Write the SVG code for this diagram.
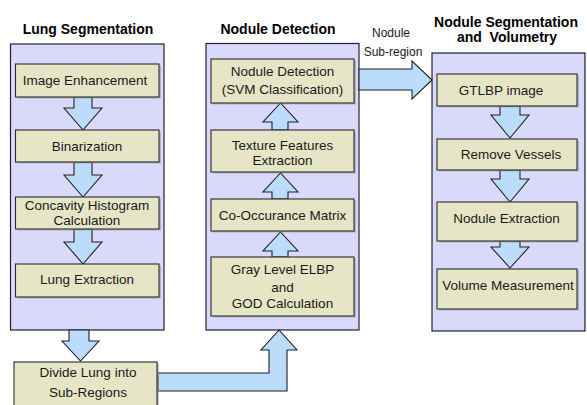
<svg xmlns="http://www.w3.org/2000/svg" width="587" height="405" viewBox="0 0 587 405">
  <style>
    .panel { fill: #d9d9fb; stroke: #22222e; stroke-width: 1.2; }
    .box { fill: #e6e6c6; stroke: #2b2b2b; stroke-width: 1.1; }
    .shadow { fill: #9a9a9a; opacity: 0.6; }
    .arrow { fill: #bcdcfc; stroke: #1f1f1f; stroke-width: 1.1; stroke-linejoin: miter; }
    .title { font-family: "Liberation Sans", Arial, sans-serif; font-size: 14px; font-weight: bold; fill: #000; text-anchor: middle; white-space: pre; }
    .label { font-family: "Liberation Sans", Arial, sans-serif; font-size: 13.5px; fill: #1a1a1a; text-anchor: middle; }
    .note { font-family: "Liberation Sans", Arial, sans-serif; font-size: 12px; fill: #1a1a1a; text-anchor: middle; }
  </style>

  <!-- section titles -->
  <text class="title" x="88" y="34">Lung Segmentation</text>
  <text class="title" x="278" y="34">Nodule Detection</text>
  <text class="title" x="506" y="27">Nodule Segmentation</text>
  <text class="title" x="507" y="42" xml:space="preserve">and  Volumetry</text>

  <!-- panels -->
  <g id="panel-lung">
    <rect class="panel" x="10.5" y="44" width="153.5" height="286"/>
  </g>
  <g id="panel-detection">
    <rect class="panel" x="206" y="43.5" width="153" height="286.5"/>
  </g>
  <g id="panel-volumetry">
    <rect class="panel" x="432" y="53" width="153" height="278"/>
  </g>

  <!-- connectors -->
  <g id="connectors">
    <!-- lung segmentation column (down) -->
    <path class="arrow" d="M74,97 V108 H64 L83,130 L102,108 H92 V97 Z"/>
    <path class="arrow" d="M74,162 V175 H64 L83,197 L102,175 H92 V162 Z"/>
    <path class="arrow" d="M74,229 V242 H64 L83,264 L102,242 H92 V229 Z"/>
    <!-- panel to divide step -->
    <path class="arrow" d="M69,330 V341 H62 L80.5,361 L99,341 H89 V330 Z"/>
    <!-- divide step to detection panel -->
    <path class="arrow" d="M158,373 H269 V350 H261 L279,330 L297,350 H287 V391 H158 Z"/>
    <!-- detection column (up) -->
    <path class="arrow" d="M272,130 V122 H263 L280.5,103 L298,122 H288 V130 Z"/>
    <path class="arrow" d="M272,199 V192 H263 L280.5,173 L298,192 H288 V199 Z"/>
    <path class="arrow" d="M272,257 V251 H263 L280.5,232 L298,251 H288 V257 Z"/>
    <!-- nodule sub-region to volumetry -->
    <path class="arrow" d="M359,69 H412 V61 L432,80 L412,99 V90 H359 Z"/>
    <!-- volumetry column (down) -->
    <path class="arrow" d="M500,106 V115 H491 L510,138 L529,115 H520 V106 Z"/>
    <path class="arrow" d="M500,170 V179 H491 L510,202 L529,179 H520 V170 Z"/>
    <path class="arrow" d="M500,241 V247 H491 L510,268 L529,247 H520 V241 Z"/>
  </g>

  <text class="note" x="391" y="37">Nodule</text>
  <text class="note" x="393" y="56">Sub-region</text>

  <!-- lung segmentation steps -->
  <g id="image-enhancement">
    <rect class="shadow" x="17.5" y="65.5" width="143.5" height="33"/>
    <rect class="box" x="15.5" y="64" width="143.5" height="33"/>
    <text class="label" x="85" y="84.5">Image Enhancement</text>
  </g>
  <g id="binarization">
    <rect class="shadow" x="17.5" y="131.5" width="143.5" height="32"/>
    <rect class="box" x="15.5" y="130" width="143.5" height="32"/>
    <text class="label" x="87" y="151">Binarization</text>
  </g>
  <g id="concavity-histogram">
    <rect class="shadow" x="17.5" y="198.5" width="143.5" height="32"/>
    <rect class="box" x="15.5" y="197" width="143.5" height="32"/>
    <text class="label" x="87" y="209.5">Concavity Histogram</text>
    <text class="label" x="87" y="224.5">Calculation</text>
  </g>
  <g id="lung-extraction">
    <rect class="shadow" x="17.5" y="265.5" width="143.5" height="33"/>
    <rect class="box" x="15.5" y="264" width="143.5" height="33"/>
    <text class="label" x="87" y="284">Lung Extraction</text>
  </g>
  <g id="divide-lung">
    <rect class="shadow" x="16" y="363.5" width="143" height="50"/>
    <rect class="box" x="14" y="362" width="143" height="50"/>
    <text class="label" x="88" y="377">Divide Lung into</text>
    <text class="label" x="88" y="397">Sub-Regions</text>
  </g>

  <!-- nodule detection steps -->
  <g id="nodule-detection">
    <rect class="shadow" x="213" y="60.5" width="143" height="44"/>
    <rect class="box" x="211" y="59" width="143" height="44"/>
    <text class="label" x="282.5" y="76">Nodule Detection</text>
    <text class="label" x="282.5" y="94">(SVM Classification)</text>
  </g>
  <g id="texture-features">
    <rect class="shadow" x="213" y="131.5" width="143" height="42"/>
    <rect class="box" x="211" y="130" width="143" height="42"/>
    <text class="label" x="282.5" y="149.5">Texture Features</text>
    <text class="label" x="282.5" y="165">Extraction</text>
  </g>
  <g id="co-occurance">
    <rect class="shadow" x="213" y="200.5" width="143" height="32"/>
    <rect class="box" x="211" y="199" width="143" height="32"/>
    <text class="label" x="282.5" y="220">Co-Occurance Matrix</text>
  </g>
  <g id="gray-level-elbp">
    <rect class="shadow" x="213" y="258.5" width="143" height="59"/>
    <rect class="box" x="211" y="257" width="143" height="59"/>
    <text class="label" x="282.5" y="274">Gray Level ELBP</text>
    <text class="label" x="282.5" y="292">and</text>
    <text class="label" x="282.5" y="308">GOD Calculation</text>
  </g>

  <!-- nodule segmentation and volumetry steps -->
  <g id="gtlbp-image">
    <rect class="shadow" x="439" y="75.5" width="140" height="32"/>
    <rect class="box" x="437" y="74" width="140" height="32"/>
    <text class="label" x="501" y="95">GTLBP image</text>
  </g>
  <g id="remove-vessels">
    <rect class="shadow" x="439" y="140.5" width="140" height="31"/>
    <rect class="box" x="437" y="139" width="140" height="31"/>
    <text class="label" x="511" y="158.5">Remove Vessels</text>
  </g>
  <g id="nodule-extraction">
    <rect class="shadow" x="439" y="203.5" width="140" height="39"/>
    <rect class="box" x="437" y="202" width="140" height="39"/>
    <text class="label" x="506.5" y="223">Nodule Extraction</text>
  </g>
  <g id="volume-measurement">
    <rect class="shadow" x="439" y="270.5" width="140" height="40"/>
    <rect class="box" x="437" y="269" width="140" height="40"/>
    <text class="label" x="508" y="290">Volume Measurement</text>
  </g>
</svg>
